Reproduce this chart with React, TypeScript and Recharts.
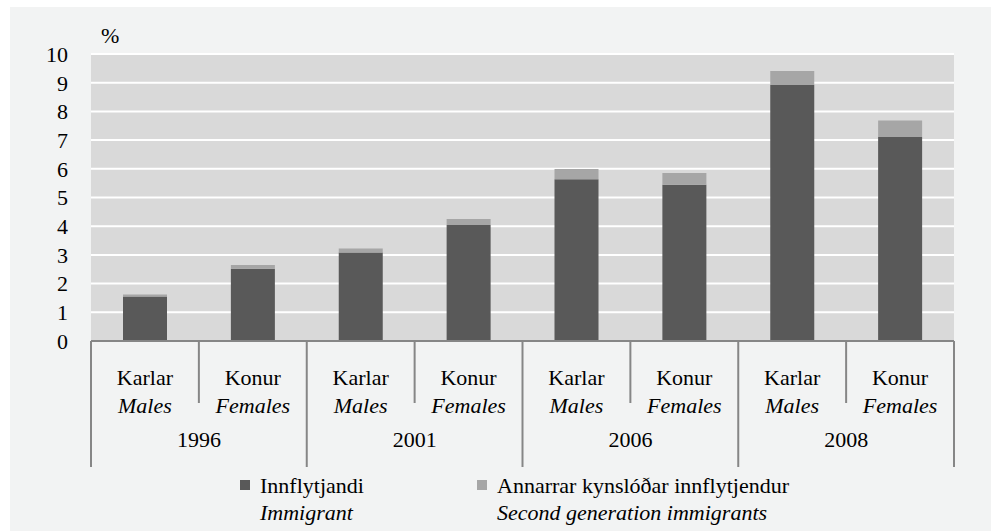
import React from 'react';
import { BarChart, Bar, XAxis, YAxis, CartesianGrid, Legend } from 'recharts';

const years = ['1996', '2001', '2006', '2008'];
const sexIs = ['Karlar', 'Konur'];
const sexEn = ['Males', 'Females'];

// share of population, %
const immigrant = [1.55, 2.52, 3.08, 4.04, 5.64, 5.44, 8.92, 7.11];
const secondGen = [0.07, 0.13, 0.14, 0.21, 0.35, 0.41, 0.49, 0.57];

const seriesIs = ['Innflytjandi', 'Annarrar kynslóðar innflytjendur'];
const seriesEn = ['Immigrant', 'Second generation immigrants'];
const yTicks = [0, 1, 2, 3, 4, 5, 6, 7, 8, 9, 10];

const rows = immigrant.map((v, i) => ({
  key: `${years[Math.floor(i / 2)]}-${i % 2}`,
  year: years[Math.floor(i / 2)],
  is: sexIs[i % 2],
  en: sexEn[i % 2],
  immigrant: v,
  secondGen: secondGen[i],
}));

const FONT = 'Liberation Serif, DejaVu Serif, serif';
const SEP = '#868686';
const txt: React.CSSProperties = { fontFamily: FONT, fontSize: 22, fill: '#000' };

const AxisTick = (props: any) => {
  const { x, y, index, width, visibleTicksCount } = props;
  const count = visibleTicksCount || rows.length;
  const band = (typeof width === 'number' && width > 0 ? width : 863) / count;
  const row = rows[index];
  const left = x - band / 2;
  const first = index % 2 === 0;
  return (
    <g>
      <line x1={left} x2={left} y1={y} y2={y + (first ? 126 : 62)} stroke={SEP} strokeWidth={2} />
      {index === count - 1 && (
        <line x1={x + band / 2} x2={x + band / 2} y1={y} y2={y + 126} stroke={SEP} strokeWidth={2} />
      )}
      <text x={x} y={y + 44} textAnchor="middle" style={txt}>{row.is}</text>
      <text x={x} y={y + 72} textAnchor="middle" style={{ ...txt, fontStyle: 'italic' }}>{row.en}</text>
      {first && <text x={x + band / 2} y={y + 106} textAnchor="middle" style={txt}>{row.year}</text>}
    </g>
  );
};

const LegendBox = (props: any) => {
  const items = props.payload || [];
  const xs = [240, 477];
  return (
    <svg width={997} height={60} style={{ display: 'block' }}>
      {items.map((it: any) => {
        const i = Math.max(0, seriesIs.indexOf(it.value));
        return (
          <g key={i}>
            <rect x={xs[i]} y={10} width={10} height={10} fill={it.color} />
            <text x={xs[i] + 20} y={23} style={txt}>{it.value}</text>
            <text x={xs[i] + 20} y={50} style={{ ...txt, fontStyle: 'italic' }}>{seriesEn[i]}</text>
          </g>
        );
      })}
    </svg>
  );
};

export default function App() {
  return (
    <div style={{ position: 'absolute', left: 0, top: 0, width: 997, height: 531, background: '#fff', overflow: 'hidden' }}>
      <div style={{ position: 'absolute', left: 10, top: 7, width: 981, height: 530, background: '#f2f3f3' }} />
      <div style={{ position: 'absolute', left: 0, top: 0 }}>
        <BarChart
          width={997}
          height={531}
          data={rows}
          margin={{ top: 54, right: 43, left: 0, bottom: 0 }}
          barSize={44}
        >
          <CartesianGrid vertical={false} stroke="#fff" strokeWidth={2} fill="#d9d9d9" />
          <XAxis
            dataKey="key"
            height={190}
            interval={0}
            tickSize={0}
            tickMargin={0}
            tickLine={false}
            axisLine={{ stroke: SEP, strokeWidth: 2 }}
            tick={<AxisTick />}
          />
          <YAxis
            width={91}
            domain={[0, 10]}
            ticks={yTicks}
            interval={0}
            axisLine={false}
            tickLine={false}
            tickSize={0}
            tickMargin={23}
            tick={{ ...txt }}
            label={{
              content: (p: any) => {
                const vb = p.viewBox || { x: 0, y: 54, width: 91 };
                return (
                  <text x={vb.x + vb.width + 10} y={vb.y - 11} style={txt}>
                    %
                  </text>
                );
              },
            }}
          />
          <Legend
            layout="vertical"
            align="center"
            verticalAlign="middle"
            wrapperStyle={{ left: 0, top: 470, width: 997, height: 60 }}
            content={<LegendBox />}
          />
          <Bar dataKey="immigrant" name={seriesIs[0]} stackId="a" fill="#595959" isAnimationActive={false} />
          <Bar dataKey="secondGen" name={seriesIs[1]} stackId="a" fill="#a6a6a6" isAnimationActive={false} />
        </BarChart>
      </div>
    </div>
  );
}
